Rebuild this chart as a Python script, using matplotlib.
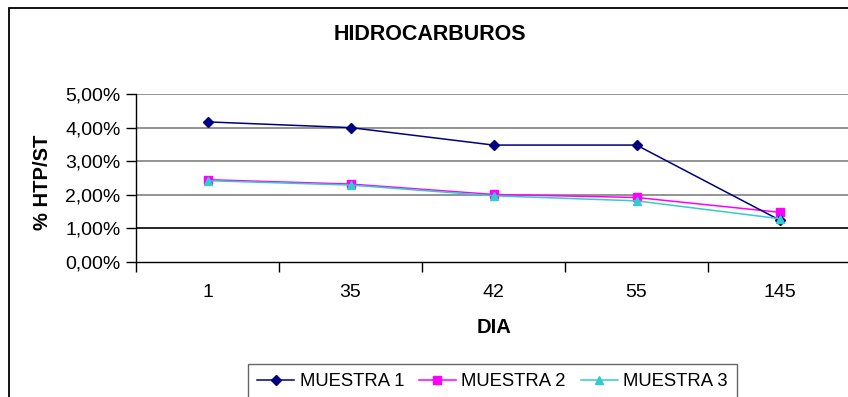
import matplotlib
matplotlib.use("Agg")
import matplotlib.pyplot as plt
from matplotlib.patches import Rectangle
from matplotlib.ticker import FuncFormatter, FixedLocator

plt.rcParams['font.family'] = ['Liberation Sans', 'DejaVu Sans']

# data (% HTP/ST)
dias = ['1', '35', '42', '55', '145']
muestra_1 = [4.17, 4.00, 3.48, 3.48, 1.25]
muestra_2 = [2.45, 2.32, 2.01, 1.92, 1.48]
muestra_3 = [2.42, 2.29, 1.97, 1.82, 1.29]
y_ticks = [0, 1, 2, 3, 4, 5]

W, H = 848, 397
fig = plt.figure(figsize=(W / 100, H / 100), dpi=100)

# outer chart frame (right and bottom edges are cut off in the reference)
x0, y0 = 8.5 / W, 1 - 7.5 / H
fig.patches.append(Rectangle((x0, -0.2), 1.3, y0 + 0.2, transform=fig.transFigure,
                             fill=False, edgecolor='black', linewidth=1.3))

left, right, top, bottom = 136, 851, 94, 262
ax = fig.add_axes([left / W, 1 - bottom / H, (right - left) / W, (bottom - top) / H])

x = list(range(len(dias)))
ax.plot(x, muestra_1, color='#000080', marker='D', markersize=5.5, linewidth=1.1,
        label='MUESTRA 1', clip_on=False, zorder=5)
ax.plot(x, muestra_2, color='#FF00FF', marker='s', markersize=5.5, linewidth=1.1,
        label='MUESTRA 2', clip_on=False, zorder=4)
ax.plot(x, muestra_3, color='#33CCCC', marker='^', markersize=6, linewidth=1.1,
        label='MUESTRA 3', clip_on=False, zorder=6)

ax.set_xlim(-0.5, len(dias) - 0.5)
ax.set_ylim(0, 5)

# gridlines
for v in y_ticks[1:]:
    ax.axhline(v, color='black' if v == 1 else '#808080', linewidth=1.2, zorder=1)

ax.spines['top'].set_visible(False)
ax.spines['right'].set_visible(False)
ax.spines['left'].set_linewidth(1.0)
ax.spines['bottom'].set_linewidth(1.0)

ax.yaxis.set_major_locator(FixedLocator(y_ticks))
ax.yaxis.set_major_formatter(FuncFormatter(lambda v, p: f"{v:.2f}".replace('.', ',') + '%'))
ax.tick_params(axis='y', length=7, width=1, labelsize=14, pad=4)

ax.set_xticks(x)
ax.set_xticklabels(dias)
ax.set_xticks([i + 0.5 for i in range(-1, len(dias))], minor=True)
ax.tick_params(axis='x', which='major', length=0, labelsize=14, pad=16)
ax.tick_params(axis='x', which='minor', length=7, width=1)

ax.set_xlabel('DIA', fontsize=14.5, fontweight='bold', labelpad=12)
fig.text(42 / W, 1 - 182 / H, '% HTP/ST', rotation=90, fontsize=14.5, fontweight='bold',
         ha='center', va='center')
fig.text(430 / W, 1 - 35 / H, 'HIDROCARBUROS', fontsize=15.5, fontweight='bold',
         ha='center', va='center')

leg = fig.legend(loc='upper left', bbox_to_anchor=(248 / W, 1 - 364 / H), ncol=3,
                 fontsize=13.3, frameon=True, fancybox=False, borderpad=0.5,
                 handlelength=2.0, handletextpad=0.3, columnspacing=0.8,
                 borderaxespad=0)
leg.get_frame().set_edgecolor('#404040')
leg.get_frame().set_linewidth(1.0)

fig.savefig('out.png', dpi=100)
